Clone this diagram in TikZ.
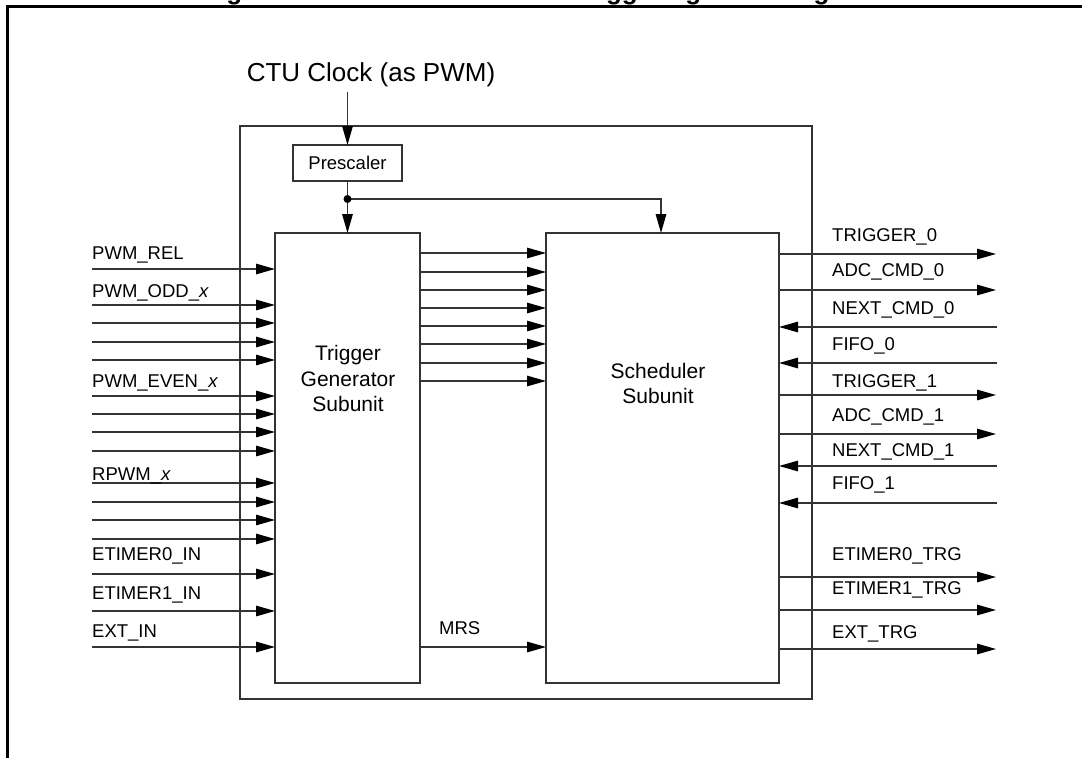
\documentclass[tikz,border=0pt]{standalone}
\usepackage{fontspec}
\setmainfont{Liberation Sans}
\usetikzlibrary{arrows.meta}
\begin{document}
\begin{tikzpicture}[x=1pt,y=-1pt,
  lbl/.style={font=\fontsize{18.5}{22}\selectfont, inner sep=0pt, anchor=base west},
  inlbl/.style={font=\fontsize{21}{25}\selectfont, inner sep=0pt, anchor=base},
  big/.style={font=\fontsize{26}{30}\selectfont, inner sep=0pt, anchor=base},
  ttl/.style={font=\fontsize{26}{30}\selectfont\bfseries, inner sep=0pt, anchor=base west},
  box/.style={draw=black!80, line width=1.4pt, inner sep=0pt, outer sep=0pt},
  wire/.style={draw=black!80, line width=1.4pt},
  arr/.style={wire, -{Triangle[length=19pt,width=10.5pt,black]}},
  frameline/.style={line width=3pt, black}]
\useasboundingbox (0,0) rectangle (1082,758);
% cut-off title
\begin{scope}
\clip (0,0) rectangle (1082,5.5);
\node[ttl] (t1) at (203,-0.5) {Figure};
\node[ttl] (t2) at (574,-0.5) {Triggering};
\node[ttl] (t3) at (773,-0.5) {Diagram};
\end{scope}
\draw[frameline] (1082,6.5) -- (7.5,6.5) -- (7.5,758);
% boxes
\node[box, minimum width=572pt, minimum height=573pt] (outer) at (526,412.5) {};
\node[box, minimum width=145pt, minimum height=450pt] (tg) at (347.5,458) {};
\node[box, minimum width=233pt, minimum height=450pt] (sch) at (662.5,458) {};
\node[box, minimum width=109pt, minimum height=36pt,
      font=\fontsize{18.5}{22}\selectfont] (pre) at (347.5,163) {Prescaler};
\node[inlbl] (tga) at (348,360.7) {Trigger};
\node[inlbl] (tgb) at (348,386.7) {Generator};
\node[inlbl] (tgc) at (348,411.7) {Subunit};
\node[inlbl] (scha) at (658,378.3) {Scheduler};
\node[inlbl] (schb) at (658,403.3) {Subunit};
% clock
\node[big] (clk) at (371,81) {CTU Clock (as PWM)};
\coordinate (clkin) at (347.5,92);
\draw[arr] (clkin) -- (pre.north);
\coordinate (dot) at (347.5,199);
\draw[wire] (pre.south) -- (dot);
\draw[arr] (dot) -- (tg.north);
\coordinate (schtop) at (661,233);
\draw[arr] (dot) -| (schtop);
\fill[black] (dot) circle (4pt);
% left inputs
\foreach \y [count=\i] in {269,305,323,342,360,396,414,432,451,483,502,520,539,574,611,647} {
  \coordinate (in\i) at (92,\y);
  \draw[arr] (in\i) -- (in\i -| tg.west);
}
\node[lbl] (l1) at (92,259.6) {PWM\_REL};
\node[lbl] (l2) at (92,297.6) {PWM\_ODD\_\textit{x}};
\node[lbl] (l3) at (92,387.6) {PWM\_EVEN\_\textit{x}};
\node[lbl] (l4) at (92,480.6) {RPWM\_\textit{x}};
\node[lbl] (l5) at (92,560.6) {ETIMER0\_IN};
\node[lbl] (l6) at (92,599.6) {ETIMER1\_IN};
\node[lbl] (l7) at (92,637.6) {EXT\_IN};
% middle
\foreach \y [count=\i] in {253,272,290,308,326,344,363,381} {
  \coordinate (m\i) at (420,\y);
  \draw[arr] (m\i -| tg.east) -- (m\i -| sch.west);
}
\coordinate (mrs) at (420,647);
\draw[arr] (mrs -| tg.east) -- (mrs -| sch.west);
\node[lbl] (mrsl) at (439,634) {MRS};
% right outputs
\foreach \y [count=\i] in {254,290,395,434,577,610,649} {
  \coordinate (out\i) at (996,\y);
  \draw[arr] (out\i -| sch.east) -- (out\i);
}
\foreach \y [count=\i] in {327,363,466,503} {
  \coordinate (rin\i) at (997,\y);
  \draw[arr] (rin\i) -- (rin\i -| sch.east);
}
\node[lbl] (r1) at (832,241.6) {TRIGGER\_0};
\node[lbl] (r2) at (832,276.6) {ADC\_CMD\_0};
\node[lbl] (r3) at (832,314.6) {NEXT\_CMD\_0};
\node[lbl] (r4) at (832,350.6) {FIFO\_0};
\node[lbl] (r5) at (832,387.6) {TRIGGER\_1};
\node[lbl] (r6) at (832,421.6) {ADC\_CMD\_1};
\node[lbl] (r7) at (832,456.6) {NEXT\_CMD\_1};
\node[lbl] (r8) at (832,489.6) {FIFO\_1};
\node[lbl] (r9) at (832,560.6) {ETIMER0\_TRG};
\node[lbl] (r10) at (832,594.6) {ETIMER1\_TRG};
\node[lbl] (r11) at (832,638.6) {EXT\_TRG};
\end{tikzpicture}
\end{document}
